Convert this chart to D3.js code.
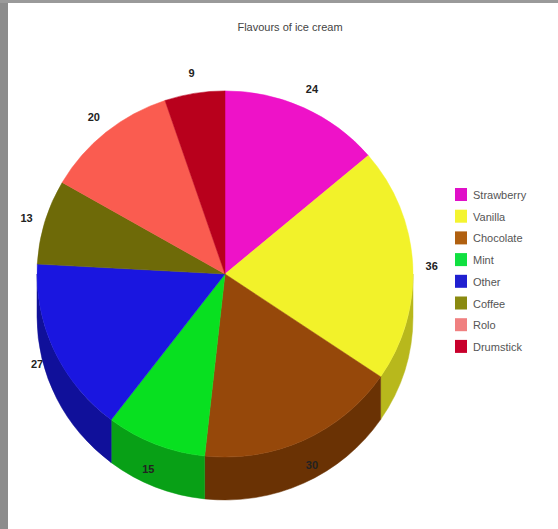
<!DOCTYPE html>
<html>
<head>
<meta charset="utf-8">
<style>
  * { margin: 0; padding: 0; }
  body { background: #fff; }
  svg { display: block; }
</style>
</head>
<body>
<script src="https://cdn.jsdelivr.net/npm/d3@7"></script>
<script>
  // data
  const flavours = ["Strawberry", "Vanilla", "Chocolate", "Mint", "Other", "Coffee", "Rolo", "Drumstick"];
  const counts = [24, 36, 30, 15, 27, 13, 20, 9];
  const topColors = ["#ee12c8", "#f2f22a", "#96480a", "#08e020", "#1a16e0", "#6e6a08", "#fa5c50", "#b8001c"];
  const sideColors = ["#a00c88", "#b8b81c", "#6a3204", "#08a016", "#10109a", "#4a4604", "#b84038", "#80000e"];
  const legendColors = ["#e010c8", "#f4f430", "#b06010", "#10e040", "#2020d0", "#8a8a10", "#f08080", "#c8002c"];

  const width = 558, height = 529;
  const cx = 225, cy = 274, r = 188, squash = 0.974, depth = 44;

  const svg = d3.select("body").append("svg")
      .attr("width", width)
      .attr("height", height);

  // frame bits from the screenshot
  svg.append("rect").attr("x", 0).attr("y", 0).attr("width", 8).attr("height", height).attr("fill", "#8c8c8c");
  svg.append("rect").attr("x", 0).attr("y", 0).attr("width", width).attr("height", 3).attr("fill", "#9a9a9a");

  svg.append("text")
      .attr("x", 290)
      .attr("y", 31)
      .attr("text-anchor", "middle")
      .attr("font-family", "Liberation Sans, Arial, sans-serif")
      .attr("font-size", 11)
      .attr("fill", "#444")
      .text("Flavours of ice cream");

  const data = flavours.map((f, i) => ({ name: f, value: counts[i], i }));
  const pie = d3.pie().value(d => d.value).sort(null);
  const arcs = pie(data);

  // slightly flattened pie
  const g = svg.append("g").attr("transform", `translate(${cx},${cy}) scale(1,${squash})`);

  // side wall, only the front half (angles between pi/2 and 3pi/2)
  function wall(a0, a1) {
    const s = Math.max(a0, Math.PI / 2), e = Math.min(a1, Math.PI * 1.5);
    if (e <= s) return null;
    const px = a => r * Math.sin(a), py = a => -r * Math.cos(a);
    const large = e - s > Math.PI ? 1 : 0;
    return `M${px(s)},${py(s)}A${r},${r} 0 ${large} 1 ${px(e)},${py(e)}` +
      `L${px(e)},${py(e) + depth}A${r},${r} 0 ${large} 0 ${px(s)},${py(s) + depth}Z`;
  }

  g.append("g").attr("class", "sides")
    .selectAll("path")
    .data(arcs)
    .join("path")
      .attr("d", d => wall(d.startAngle, d.endAngle))
      .attr("fill", d => sideColors[d.data.i])
      .attr("stroke", d => sideColors[d.data.i])
      .attr("stroke-width", 0.5);

  const arc = d3.arc().innerRadius(0).outerRadius(r);
  g.append("g").attr("class", "slices")
    .selectAll("path")
    .data(arcs)
    .join("path")
      .attr("d", arc)
      .attr("fill", d => topColors[d.data.i])
      .attr("stroke", d => topColors[d.data.i])
      .attr("stroke-width", 0.5);

  const labelArc = d3.arc().innerRadius(207).outerRadius(207);
  svg.append("g").attr("class", "labels")
      .attr("transform", `translate(${cx},${cy + 3})`)
    .selectAll("text")
    .data(arcs)
    .join("text")
      .attr("transform", d => `translate(${labelArc.centroid(d)})`)
      .attr("dy", "0.35em")
      .attr("text-anchor", "middle")
      .attr("font-family", "Liberation Sans, Arial, sans-serif")
      .attr("font-size", 11)
      .attr("font-weight", "bold")
      .attr("fill", "#222")
      .text(d => d.data.value);

  // legend
  const legend = svg.append("g").attr("transform", "translate(455,188)");
  const item = legend.selectAll("g")
    .data(flavours)
    .join("g")
      .attr("transform", (d, i) => `translate(0,${i * 21.7})`);
  item.append("rect")
      .attr("width", 12)
      .attr("height", 13)
      .attr("fill", (d, i) => legendColors[i]);
  item.append("text")
      .attr("x", 18)
      .attr("y", 11)
      .attr("font-family", "Liberation Sans, Arial, sans-serif")
      .attr("font-size", 11)
      .attr("fill", "#555")
      .text(d => d);
</script>
</body>
</html>
